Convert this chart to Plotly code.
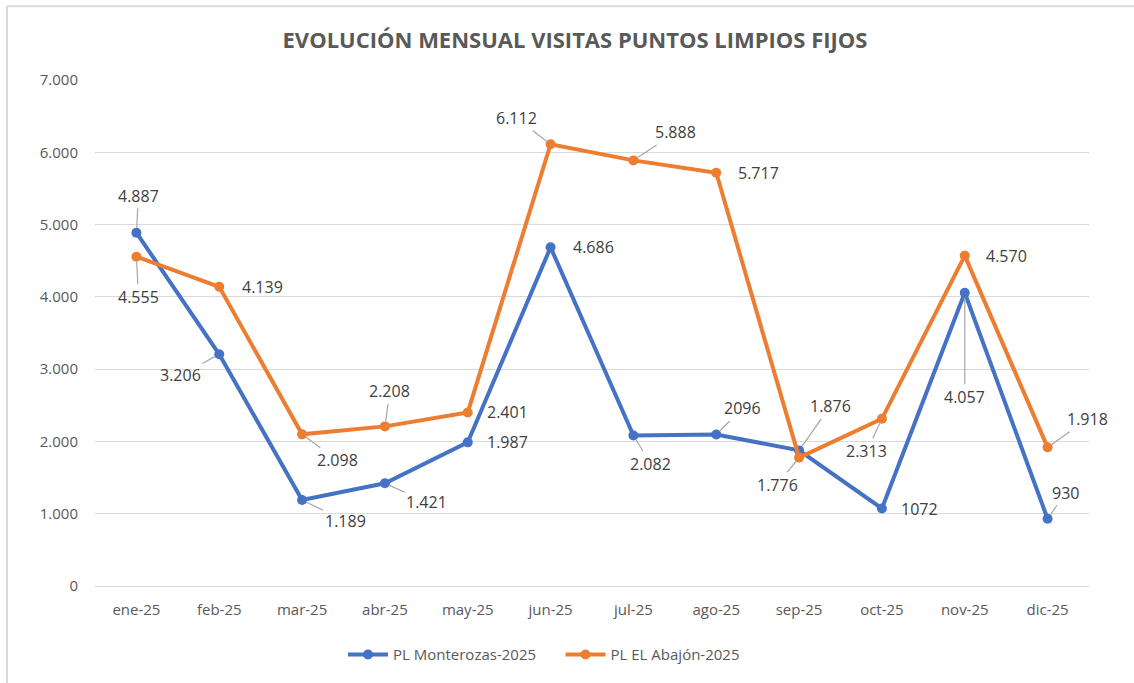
import plotly.graph_objects as go

categories = ["ene-25", "feb-25", "mar-25", "abr-25", "may-25", "jun-25",
              "jul-25", "ago-25", "sep-25", "oct-25", "nov-25", "dic-25"]
monterozas = [4887, 3206, 1189, 1421, 1987, 4686, 2082, 2096, 1876, 1072, 4057, 930]
abajon = [4555, 4139, 2098, 2208, 2401, 6112, 5888, 5717, 1776, 2313, 4570, 1918]
monterozas_labels = ["4.887", "3.206", "1.189", "1.421", "1.987", "4.686",
                     "2.082", "2096", "1.876", "1072", "4.057", "930"]
abajon_labels = ["4.555", "4.139", "2.098", "2.208", "2.401", "6.112",
                 "5.888", "5.717", "1.776", "2.313", "4.570", "1.918"]
y_ticks = [0, 1000, 2000, 3000, 4000, 5000, 6000, 7000]

# label placement (pixel offsets dx, dy(down), leader line?)
mont_pos = [(2, -37, True), (-39, 21, True), (43, 21, True), (42, 19, True),
            (40, 0, False), (43, 0, False), (17, 28, True), (26, -26, True),
            (31, -44, True), (38, 0, False), (0, 104, True), (18, -26, True)]
abaj_pos = [(2, 40, True), (43, 0, False), (35, 26, True), (5, -35, True),
            (40, 0, False), (-34, -26, True), (42, -28, True), (42, 0, False),
            (-22, 27, True), (-15, 32, True), (42, 0, False), (40, -28, True)]

BLUE = "#4472C4"
ORANGE = "#ED7D31"
TXT = "#595959"
LBL = "#404040"
FONT = "Open Sans"
NB = "\u00a0"

W, H = 1134, 683
ML, MR, MT, MB = 95, 45, 80, 95

fig = go.Figure()
fig.add_trace(go.Scatter(x=categories, y=monterozas, mode="lines+markers",
                         name="PL Monterozas-2025" + NB * 5,
                         line=dict(color=BLUE, width=4),
                         marker=dict(color=BLUE, size=10)))
fig.add_trace(go.Scatter(x=categories, y=abajon, mode="lines+markers",
                         name="PL EL Abajón-2025",
                         line=dict(color=ORANGE, width=4),
                         marker=dict(color=ORANGE, size=10)))

annotations = []
for vals, texts, pos in [(monterozas, monterozas_labels, mont_pos),
                         (abajon, abajon_labels, abaj_pos)]:
    for c, v, t, (dx, dy, lead) in zip(categories, vals, texts, pos):
        a = dict(x=c, y=v, xref="x", yref="y", text=t,
                 font=dict(family=FONT, size=16, color=LBL))
        if lead:
            a.update(showarrow=True, arrowhead=0, arrowwidth=1.2,
                     arrowcolor="#a6a6a6", ax=dx, ay=dy, standoff=5)
        else:
            a.update(showarrow=False, xshift=dx, yshift=-dy)
        annotations.append(a)

pw = W - ML - MR
ph = H - MT - MB
def px_x(p):
    return (p - ML) / pw
def px_y(p):
    return (H - MB - p) / ph

shapes = [
    dict(type="line", xref="paper", yref="paper",
         x0=px_x(7), x1=px_x(W + 5), y0=px_y(6), y1=px_y(6),
         line=dict(color="#d9d9d9", width=2)),
    dict(type="line", xref="paper", yref="paper",
         x0=px_x(7), x1=px_x(7), y0=px_y(6), y1=px_y(H + 5),
         line=dict(color="#d9d9d9", width=2)),
]

fig.update_layout(
    width=W, height=H,
    margin=dict(l=ML, r=MR, t=MT, b=MB),
    paper_bgcolor="white", plot_bgcolor="white",
    separators=",.",
    font=dict(family=FONT, color=TXT),
    title=dict(text="<b>EVOLUCIÓN MENSUAL VISITAS PUNTOS LIMPIOS FIJOS</b>",
               xref="container", x=575 / W, xanchor="center",
               yref="container", y=1 - 40 / H, yanchor="middle",
               font=dict(family=FONT, size=22, color=TXT)),
    xaxis=dict(type="category", range=[-0.5, 11.5], showgrid=False,
               showline=True, linecolor="#d9d9d9", linewidth=1,
               tickfont=dict(family=FONT, size=15, color=TXT),
               ticks="", ticklabelstandoff=10, fixedrange=True),
    yaxis=dict(range=[0, 7000], tickvals=y_ticks, tickformat=",",
               showgrid=True, gridcolor="#d9d9d9", gridwidth=1,
               zeroline=False, showline=False,
               tickfont=dict(family=FONT, size=15, color=TXT),
               ticks="", ticklabelstandoff=16, fixedrange=True),
    legend=dict(orientation="h", xanchor="center", x=px_x(544),
                yanchor="middle", y=px_y(657),
                font=dict(family=FONT, size=15, color=TXT),
                itemwidth=40, tracegroupgap=0),
    annotations=annotations,
    shapes=shapes,
    showlegend=True,
)

fig.write_html("out.html", config={"displayModeBar": False},
               post_script="document.body.style.margin='0';document.body.style.overflow='hidden';")
